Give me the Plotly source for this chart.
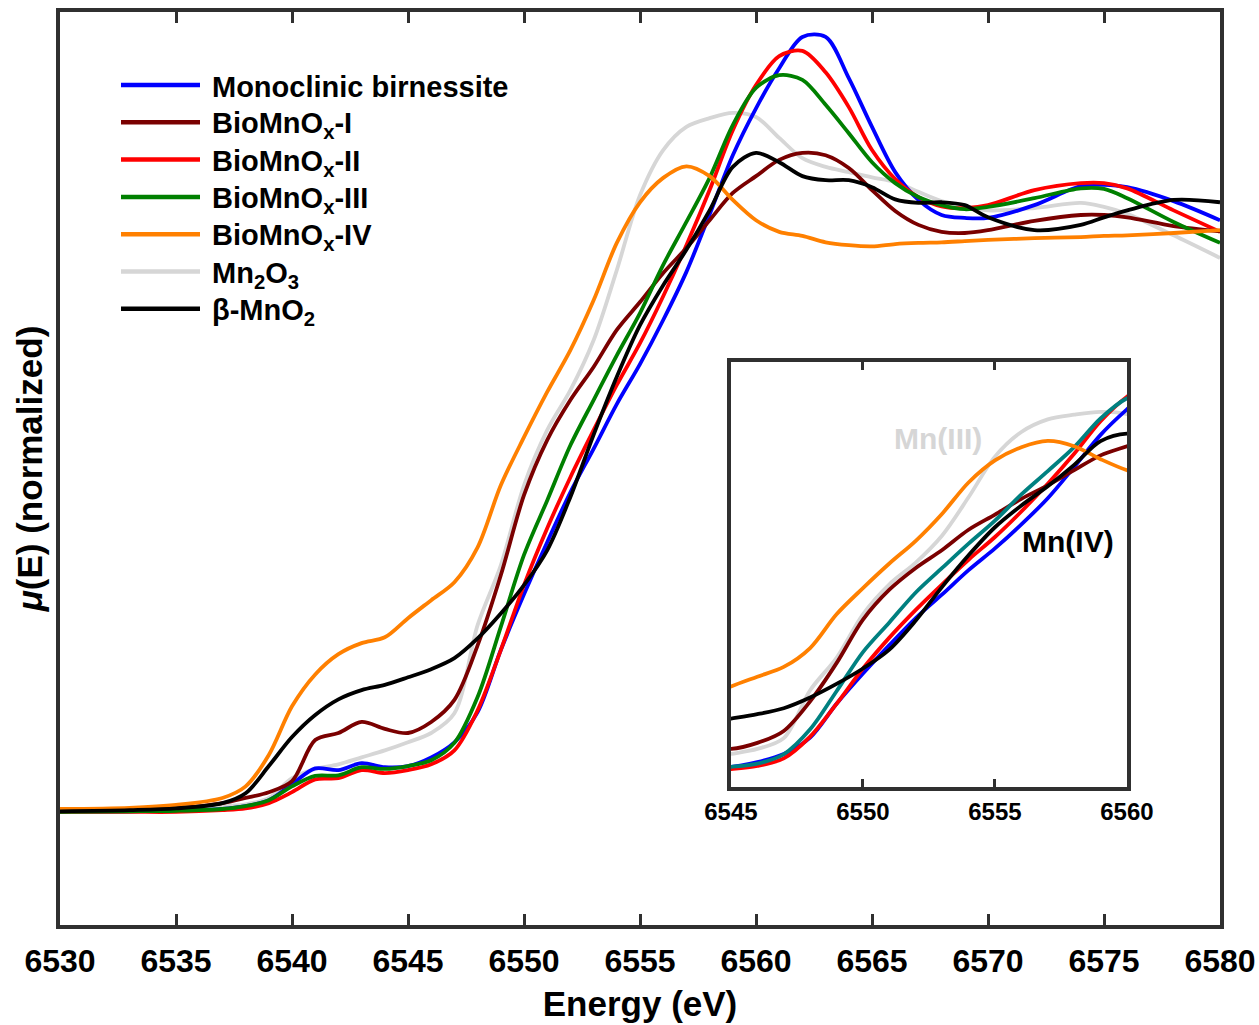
import plotly.graph_objects as go

energy = [6530, 6533, 6535, 6537, 6538, 6539, 6540, 6541, 6542, 6543, 6544, 6545, 6546, 6547,
          6548, 6549, 6550, 6551, 6552, 6553, 6554, 6555, 6556, 6557, 6558, 6559, 6560, 6561,
          6562, 6563, 6564, 6565, 6566, 6567, 6568, 6569, 6570, 6572, 6574, 6575, 6576, 6578, 6580]

mono_birnessite = [-0.003, -0.002, -0.001, 0.002, 0.007, 0.017, 0.045, 0.072, 0.069, 0.081, 0.074, 0.076,
                   0.091, 0.117, 0.169, 0.276, 0.372, 0.462, 0.548, 0.623, 0.700, 0.769, 0.845, 0.928,
                   1.027, 1.129, 1.210, 1.279, 1.333, 1.333, 1.262, 1.178, 1.100, 1.052, 1.026, 1.021,
                   1.021, 1.043, 1.076, 1.078, 1.074, 1.050, 1.017]

biomnox_1 = [-0.002, 0.000, 0.003, 0.012, 0.021, 0.031, 0.050, 0.121, 0.133, 0.152, 0.140, 0.133,
             0.152, 0.190, 0.284, 0.405, 0.543, 0.638, 0.707, 0.764, 0.828, 0.876, 0.926, 0.969,
             1.017, 1.064, 1.093, 1.121, 1.133, 1.129, 1.107, 1.069, 1.033, 1.009, 0.997, 0.995,
             1.000, 1.016, 1.026, 1.026, 1.022, 1.007, 0.998]

biomnox_2 = [-0.003, -0.003, -0.003, 0.000, 0.003, 0.012, 0.031, 0.053, 0.055, 0.069, 0.064, 0.069,
             0.079, 0.103, 0.172, 0.276, 0.388, 0.486, 0.574, 0.655, 0.733, 0.805, 0.886, 0.974,
             1.069, 1.172, 1.250, 1.300, 1.309, 1.272, 1.212, 1.138, 1.088, 1.057, 1.041, 1.038,
             1.043, 1.069, 1.081, 1.081, 1.072, 1.034, 0.997]

biomnox_3 = [-0.003, -0.002, -0.001, 0.002, 0.007, 0.017, 0.041, 0.059, 0.060, 0.074, 0.071, 0.076,
             0.086, 0.116, 0.195, 0.316, 0.440, 0.534, 0.629, 0.707, 0.784, 0.857, 0.940, 1.014,
             1.090, 1.181, 1.245, 1.267, 1.259, 1.216, 1.167, 1.117, 1.081, 1.057, 1.043, 1.036,
             1.040, 1.055, 1.072, 1.071, 1.055, 1.014, 0.978]

biomnox_4 = [0.002, 0.004, 0.009, 0.021, 0.041, 0.095, 0.179, 0.234, 0.269, 0.288, 0.298, 0.331,
             0.362, 0.393, 0.453, 0.560, 0.643, 0.721, 0.793, 0.879, 0.978, 1.048, 1.090, 1.110,
             1.093, 1.052, 1.017, 0.997, 0.990, 0.979, 0.974, 0.972, 0.976, 0.978, 0.979, 0.981,
             0.983, 0.986, 0.988, 0.990, 0.991, 0.995, 1.000]

mn2o3 = [-0.002, 0.000, 0.002, 0.007, 0.010, 0.021, 0.055, 0.071, 0.079, 0.091, 0.103, 0.117,
         0.133, 0.167, 0.319, 0.422, 0.560, 0.655, 0.724, 0.810, 0.931, 1.060, 1.138, 1.178,
         1.193, 1.202, 1.195, 1.159, 1.124, 1.109, 1.100, 1.091, 1.083, 1.066, 1.050, 1.041,
         1.034, 1.038, 1.047, 1.040, 1.028, 0.991, 0.952]

beta_mno2 = [-0.002, 0.000, 0.003, 0.012, 0.029, 0.076, 0.126, 0.164, 0.191, 0.207, 0.216, 0.229,
             0.243, 0.262, 0.296, 0.339, 0.388, 0.448, 0.540, 0.647, 0.747, 0.836, 0.905, 0.966,
             1.034, 1.109, 1.133, 1.117, 1.093, 1.086, 1.086, 1.074, 1.053, 1.047, 1.048, 1.043,
             1.022, 1.000, 1.009, 1.022, 1.034, 1.052, 1.048]

main_ticks = [6530, 6535, 6540, 6545, 6550, 6555, 6560, 6565, 6570, 6575, 6580]
inset_ticks = [6545, 6550, 6555, 6560]

# (name, data, main colour, inset colour, legend rank); listed in drawing order
series = [
    ("Mn<sub>2</sub>O<sub>3</sub>", mn2o3, "#D6D6D6", "#D6D6D6", 6),
    ("Monoclinic birnessite", mono_birnessite, "#0000FF", "#0000FF", 1),
    ("BioMnO<sub>x</sub>-II", biomnox_2, "#FF0000", "#FF0000", 3),
    ("BioMnO<sub>x</sub>-I", biomnox_1, "#7A0000", "#7A0000", 2),
    ("BioMnO<sub>x</sub>-III", biomnox_3, "#008000", "#008080", 4),
    ("BioMnO<sub>x</sub>-IV", biomnox_4, "#FF8000", "#FF8000", 5),
    ("β-MnO<sub>2</sub>", beta_mno2, "#000000", "#000000", 7),
]

FONT = "Arial, Liberation Sans, sans-serif"
FRAME = "#303030"
LW = 3.8

fig = go.Figure()
for name, data, col, icol, rank in series:
    fig.add_trace(go.Scatter(x=energy, y=data, mode="lines", name=name, showlegend=False,
                             line=dict(color=col, width=LW, shape="spline", smoothing=0.9),
                             xaxis="x", yaxis="y"))
for name, data, col, icol, rank in series:
    fig.add_trace(go.Scatter(x=energy, y=data, mode="lines", name=name, showlegend=False,
                             line=dict(color=icol, width=LW, shape="spline", smoothing=0.9),
                             xaxis="x2", yaxis="y2"))

# legend drawn as a key: sample line + label per series, in legend-rank order
W, H, ML, MR, MT, MB = 1259, 1025, 60, 39, 12, 100
PW, PH = W - ML - MR, H - MT - MB
key_x0, key_x1, key_text_x = 121, 200, 210
key_row0, key_step = 85, 37.3
shapes, annotations = [], []
for i, (name, data, col, icol, rank) in enumerate(sorted(series, key=lambda s: s[4])):
    ypx = key_row0 + i * key_step
    yp = (H - MB - ypx) / PH
    shapes.append(dict(type="line", xref="paper", yref="paper",
                       x0=(key_x0 - ML) / PW, x1=(key_x1 - ML) / PW, y0=yp, y1=yp,
                       line=dict(color=col, width=4.5)))
    has_sub = "<sub>" in name
    annotations.append(dict(xref="paper", yref="paper", x=(key_text_x - ML) / PW, y=yp,
                            xanchor="left", yanchor="middle", showarrow=False, text=name,
                            yshift=-3 if has_sub else -2,
                            font=dict(size=29, family=FONT, weight="bold", color="black")))

annotations += [
    dict(x=6552.84, y=1.119, xref="x2", yref="y2", text="Mn(III)", showarrow=False,
         font=dict(size=30, family=FONT, weight="bold", color="#D6D6D6")),
    dict(x=6557.77, y=0.792, xref="x2", yref="y2", text="Mn(IV)", showarrow=False,
         font=dict(size=30, family=FONT, weight="bold", color="black")),
]

fig.update_layout(
    width=W, height=H,
    margin=dict(l=ML, r=MR, t=MT, b=MB, autoexpand=False),
    paper_bgcolor="white", plot_bgcolor="white",
    font=dict(family=FONT, color="black"),
    showlegend=False,
    xaxis=dict(domain=[0, 1], range=[6530, 6580], tickvals=main_ticks, tickformat="d",
               automargin=False, ticklabelstandoff=5,
               ticks="inside", ticklen=11, tickwidth=2.5, tickcolor=FRAME,
               showline=True, linewidth=3.8, linecolor=FRAME, mirror="ticks",
               showgrid=False, zeroline=False,
               tickfont=dict(size=32, family=FONT, weight="bold"),
               title=dict(text="Energy (eV)", font=dict(size=35, family=FONT, weight="bold"),
                          standoff=14)),
    yaxis=dict(domain=[0, 1], range=[-0.198, 1.376], showticklabels=False, ticks="",
               automargin=False,
               showline=True, linewidth=3.8, linecolor=FRAME, mirror=True,
               showgrid=False, zeroline=False,
               title=dict(text="<i>μ</i>(E) (normalized)",
                          font=dict(size=35, family=FONT, weight="bold"), standoff=4)),
    xaxis2=dict(domain=[0.5784, 0.9198], range=[6545, 6560], tickvals=inset_ticks, tickformat="d",
                anchor="y2", automargin=False,
                ticks="inside", ticklen=8, tickwidth=2.5, tickcolor=FRAME,
                showline=True, linewidth=3.8, linecolor=FRAME, mirror="ticks",
                showgrid=False, zeroline=False,
                tickfont=dict(size=24, family=FONT, weight="bold")),
    yaxis2=dict(domain=[0.1511, 0.6166], range=[0.012, 1.36], anchor="x2",
                automargin=False, showticklabels=False, ticks="",
                showline=True, linewidth=3.8, linecolor=FRAME, mirror=True,
                showgrid=False, zeroline=False),
    shapes=shapes,
    annotations=annotations,
)

fig.write_html("out.html", config={"displayModeBar": False},
               post_script="document.body.style.margin='0';document.body.style.padding='0';")
